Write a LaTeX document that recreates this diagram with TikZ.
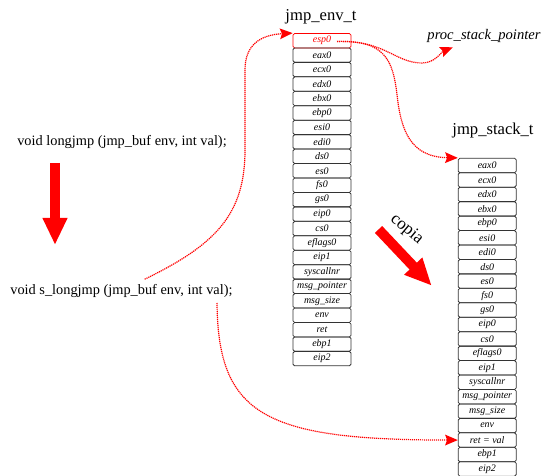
\documentclass[tikz,border=0pt]{standalone}
\usepackage{fontspec}
\setmainfont{Liberation Serif}
\usetikzlibrary{arrows.meta}

\begin{document}
\begin{tikzpicture}[>=latex,line join=bevel,
  field/.style={draw=black!80,line width=0.6bp,rounded corners=1.2bp,minimum width=43.5bp,minimum height=10.84bp,inner sep=0pt,font=\fontsize{7.5}{8}\selectfont\itshape},
  proto/.style={font=\fontsize{10.8}{13}\selectfont},
  title/.style={font=\fontsize{12.5}{14}\selectfont},
  link/.style={red,line width=0.9bp,dash pattern=on 0.9bp off 0.6bp,-{Stealth[length=9.5bp,width=8bp,inset=1.5bp]}},
  bigarrow/.style={red,line width=7.5bp,-{Triangle[width=17.25bp,length=20.25bp]}},
]
\useasboundingbox (0bp,0bp) rectangle (405.75bp,357bp);
%%
\node (title_env) at (240.75bp,344.25bp) [title] {jmp\_env\_t};
  \node (title_stk) at (369.75bp,258.75bp) [title] {jmp\_stack\_t};
  \node (psp) at (363bp,330bp) [font=\fontsize{11}{13}\selectfont\itshape] {proc\_stack\_pointer};
  \node (lj) at (91.5bp,250.5bp) [proto] {void longjmp (jmp\_buf env, int val);};
  \node (slj) at (91.1bp,139.1bp) [proto] {void s\_longjmp (jmp\_buf env, int val);};
%
\node (env_0) at (241.5bp,326.46bp) [field,draw=red,text=red] {esp0};
  \node (env_1) at (241.5bp,315.62bp) [field] {eax0};
  \node (env_2) at (241.5bp,304.78bp) [field] {ecx0};
  \node (env_3) at (241.5bp,293.95bp) [field] {edx0};
  \node (env_4) at (241.5bp,283.11bp) [field] {ebx0};
  \node (env_5) at (241.5bp,272.27bp) [field] {ebp0};
  \node (env_6) at (241.5bp,261.43bp) [field] {esi0};
  \node (env_7) at (241.5bp,250.60bp) [field] {edi0};
  \node (env_8) at (241.5bp,239.76bp) [field] {ds0};
  \node (env_9) at (241.5bp,228.92bp) [field] {es0};
  \node (env_10) at (241.5bp,218.08bp) [field] {fs0};
  \node (env_11) at (241.5bp,207.25bp) [field] {gs0};
  \node (env_12) at (241.5bp,196.41bp) [field] {eip0};
  \node (env_13) at (241.5bp,185.57bp) [field] {cs0};
  \node (env_14) at (241.5bp,174.74bp) [field] {eflags0};
  \node (env_15) at (241.5bp,163.90bp) [field] {eip1};
  \node (env_16) at (241.5bp,153.06bp) [field] {syscallnr};
  \node (env_17) at (241.5bp,142.22bp) [field] {msg\_pointer};
  \node (env_18) at (241.5bp,131.39bp) [field] {msg\_size};
  \node (env_19) at (241.5bp,120.55bp) [field] {env};
  \node (env_20) at (241.5bp,109.71bp) [field] {ret};
  \node (env_21) at (241.5bp,98.87bp) [field] {ebp1};
  \node (env_22) at (241.5bp,88.04bp) [field] {eip2};
%
\node (stk_0) at (365.4bp,232.86bp) [field] {eax0};
  \node (stk_1) at (365.4bp,222.02bp) [field] {ecx0};
  \node (stk_2) at (365.4bp,211.18bp) [field] {edx0};
  \node (stk_3) at (365.4bp,200.34bp) [field] {ebx0};
  \node (stk_4) at (365.4bp,189.51bp) [field] {ebp0};
  \node (stk_5) at (365.4bp,178.67bp) [field] {esi0};
  \node (stk_6) at (365.4bp,167.83bp) [field] {edi0};
  \node (stk_7) at (365.4bp,156.99bp) [field] {ds0};
  \node (stk_8) at (365.4bp,146.16bp) [field] {es0};
  \node (stk_9) at (365.4bp,135.32bp) [field] {fs0};
  \node (stk_10) at (365.4bp,124.48bp) [field] {gs0};
  \node (stk_11) at (365.4bp,113.65bp) [field] {eip0};
  \node (stk_12) at (365.4bp,102.81bp) [field] {cs0};
  \node (stk_13) at (365.4bp,91.97bp) [field] {eflags0};
  \node (stk_14) at (365.4bp,81.13bp) [field] {eip1};
  \node (stk_15) at (365.4bp,70.30bp) [field] {syscallnr};
  \node (stk_16) at (365.4bp,59.46bp) [field] {msg\_pointer};
  \node (stk_17) at (365.4bp,48.62bp) [field] {msg\_size};
  \node (stk_18) at (365.4bp,37.79bp) [field] {env};
  \node (stk_19) at (365.4bp,26.95bp) [field] {ret = val};
  \node (stk_20) at (365.4bp,16.11bp) [field] {ebp1};
  \node (stk_21) at (365.4bp,5.27bp) [field] {eip2};
%
\coordinate (esp_out) at (252.75bp,325.9bp);
  \coordinate (slj_out) at (162.75bp,129.75bp);
  \draw [link] (slj) ..controls (161.25bp,173.25bp) and (183.75bp,195.75bp) .. (183.75bp,244.5bp) -- (183.75bp,304.5bp) ..controls (183.75bp,323.25bp) and (195bp,330.75bp) .. (env_0.north west);
  \draw [link] (esp_out) ..controls (288.75bp,327bp) and (296.25bp,309.75bp) .. (316.5bp,309.75bp) ..controls (326.25bp,309.75bp) and (331bp,318bp) .. (psp.200);
  \draw [link] (esp_out) ..controls (288.75bp,327bp) and (294.75bp,312bp) .. (297.75bp,285.75bp) ..controls (300.75bp,259.5bp) and (307.5bp,239.25bp) .. (stk_0.north west);
  \draw [link] (slj_out) ..controls (163.5bp,45.75bp) and (198.75bp,27bp) .. (stk_19.west);
%
\coordinate (down_a) at (41.25bp,234.75bp);
  \coordinate (down_b) at (41.25bp,173.25bp);
  \draw [bigarrow] (down_a) -- (down_b);
  \coordinate (copy_a) at (283.9bp,184.9bp);
  \coordinate (copy_b) at (323.8bp,142.7bp);
  \draw [bigarrow] (copy_a) -- (copy_b);
  \node (copia) at (305bp,185bp) [rotate=-40,font=\fontsize{13}{15}\selectfont] {copia};
%
\end{tikzpicture}
\end{document}
